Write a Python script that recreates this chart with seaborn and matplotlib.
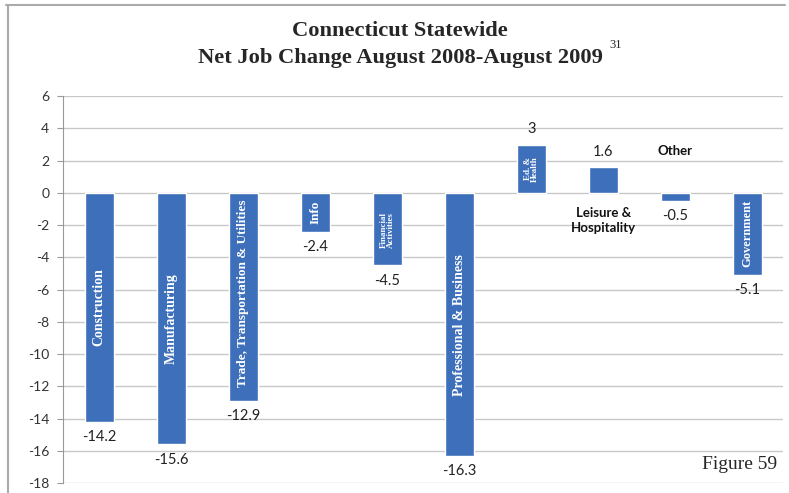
"""
Connecticut statewide net job change, Aug 2008 - Aug 2009.
"""

import matplotlib.pyplot as plt
import pandas as pd
import seaborn as sns
from matplotlib.lines import Line2D

sectors = [
    "Construction",
    "Manufacturing",
    "Trade, Transportation & Utilities",
    "Info",
    "Financial\nActivities",
    "Professional & Business",
    "Ed. &\nHealth",
    "Leisure &\nHospitality",
    "Other",
    "Government",
]
job_change = [-14.2, -15.6, -12.9, -2.4, -4.5, -16.3, 3.0, 1.6, -0.5, -5.1]
value_labels = ["-14.2", "-15.6", "-12.9", "-2.4", "-4.5", "-16.3", "3", "1.6", "-0.5", "-5.1"]
y_ticks = list(range(-18, 7, 2))

BAR_COLOR = "#3d6fba"
SERIF = ["Liberation Serif", "DejaVu Serif"]
SANS = ["Lato", "DejaVu Sans"]

df = pd.DataFrame({"sector": sectors, "change": job_change})

sns.set_style("white")
plt.rcParams["font.family"] = SANS

fig = plt.figure(figsize=(7.89, 4.93), dpi=100)
ax = fig.add_axes([0.080, 0.020, 0.913, 0.785])

sns.barplot(data=df, x="sector", y="change", color=BAR_COLOR, width=0.4,
            saturation=1, ax=ax)

ax.set_ylim(-18, 6)
ax.set_xlim(-0.5, len(sectors) - 0.5)
ax.set_yticks(y_ticks)
ax.set_yticklabels([str(t) for t in y_ticks], fontsize=10, color="#333333")
ax.set_xticks([])
ax.set_xlabel("")
ax.set_ylabel("")
ax.grid(axis="y", color="#c8c8c8", linewidth=1)
ax.set_axisbelow(True)
for side in ["top", "right", "bottom"]:
    ax.spines[side].set_visible(False)
ax.spines["left"].set_color("#999999")
ax.tick_params(axis="y", length=4, color="#999999", left=True, pad=6)

# value labels
ax.bar_label(ax.containers[0], labels=value_labels, padding=6, fontsize=10.5,
             color="#222222")

# category names inside the bars (rotated white serif)
inside = {
    0: (-7.1, 10),
    1: (-7.8, 10),
    2: (-6.2, 9.5),
    3: (-1.2, 9.5),
    4: (-2.3, 6.5),
    5: (-8.2, 10),
    6: (1.5, 6.5),
    9: (-2.5, 9),
}
for i, (y, size) in inside.items():
    ax.text(i, y, sectors[i], rotation=90, ha="center", va="center",
            color="white", fontsize=size, fontweight="bold", family=SERIF,
            linespacing=0.9)

# labels outside the bars
ax.text(7, -1.7, sectors[7], ha="center", va="center", fontsize=9.5,
        fontweight="bold", color="#111111", linespacing=1.3)
ax.text(8.0, 2.6, sectors[8], ha="center", va="center", fontsize=9.5,
        fontweight="bold", color="#111111")

# title
fig.text(0.507, 0.938, "Connecticut Statewide", ha="center", va="center",
         fontsize=16.2, fontweight="bold", family=SERIF)
fig.text(0.507, 0.882, "Net Job Change August 2008-August 2009", ha="center",
         va="center", fontsize=16.2, fontweight="bold", family=SERIF)
fig.text(0.772, 0.909, "31", ha="left", va="center", fontsize=9, family=SERIF)

fig.text(0.985, 0.057, "Figure 59", ha="right", va="center", fontsize=14,
         family=SERIF)

# page frame
fig.add_artist(Line2D([0.008, 0.995], [0.990, 0.990], color="#aaaaaa",
                      linewidth=1.5, transform=fig.transFigure))
fig.add_artist(Line2D([0.010, 0.010], [0.0, 0.990], color="#aaaaaa",
                      linewidth=1.5, transform=fig.transFigure))

fig.savefig("out.png", dpi=100)
plt.close(fig)
